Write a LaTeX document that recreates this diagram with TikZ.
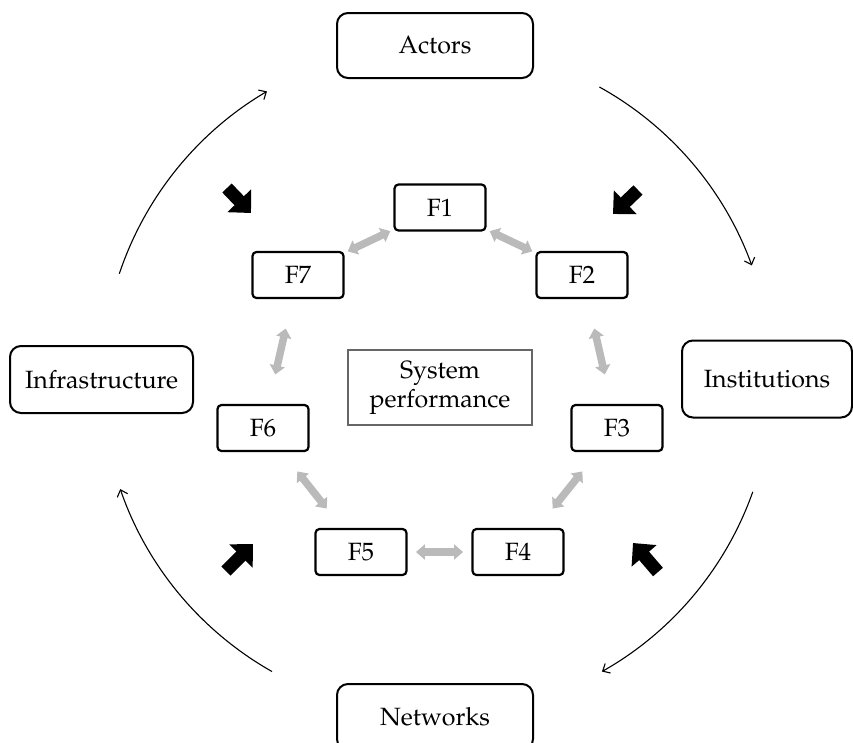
\documentclass[tikz,border=0pt]{standalone}
\usepackage[T1]{fontenc}
\renewcommand{\rmdefault}{ppl}
\usetikzlibrary{arrows.meta,calc}
\begin{document}
\begin{tikzpicture}[x=1pt,y=-1pt,
  txt/.style={font=\fontsize{25}{29}\selectfont},
  outerbox/.style={txt, draw, rounded corners=11pt, line width=2pt, inner sep=0pt},
  fbox/.style={txt, draw, rounded corners=4pt, line width=2.2pt, minimum width=91pt, minimum height=46pt, inner sep=0pt},
  grayarr/.style={draw=black!27, line width=7.5pt, {Triangle[length=9pt,width=15pt]}-{Triangle[length=9pt,width=15pt]}},
  blockarr/.style={draw=black, line width=13pt, -{Triangle[length=17pt,width=32pt]}},
  cyclearr/.style={draw=black, line width=1.1pt, -{Straight Barb[length=6pt,width=11pt]}}
]
\useasboundingbox (0,0) rectangle (853,742);

% outer boxes
\node[outerbox, minimum width=196pt, minimum height=65pt] (actors) at (435,45.5) {Actors};
\node[outerbox, minimum width=183pt, minimum height=67pt] (infra) at (101.5,379.5) {Infrastructure};
\node[outerbox, minimum width=170pt, minimum height=77pt] (inst) at (767,379) {Institutions};
\node[outerbox, minimum width=196pt, minimum height=66pt] (netw) at (435,717) {Networks};

% center box
\node[txt, draw=black!60, line width=1.2pt, minimum width=184pt, minimum height=75pt, align=center, inner sep=0pt] (sp) at (440,387.5) {System\\performance};

% F boxes
\node[fbox] (f1) at (440,207.5) {F1};
\node[fbox] (f2) at (582,275) {F2};
\node[fbox] (f3) at (617,428) {F3};
\node[fbox] (f4) at (518,552) {F4};
\node[fbox] (f5) at (361,552) {F5};
\node[fbox] (f6) at (263,428) {F6};
\node[fbox] (f7) at (298,275) {F7};

% gray double arrows
\foreach \a/\b in {f1/f7, f1/f2, f7/f6, f2/f3, f6/f5, f3/f4, f5/f4}
  \draw[grayarr] ($(\a)!0.35!(\b)$) -- ($(\a)!0.65!(\b)$);

% black block arrows
\coordinate (tlA) at (227,188); \coordinate (tlB) at (251,213);
\coordinate (trA) at (638,190); \coordinate (trB) at (613,214);
\coordinate (blA) at (226,571); \coordinate (blB) at (253,544);
\coordinate (brA) at (658,572); \coordinate (brB) at (633,543);
\draw[blockarr] (tlA) -- (tlB);
\draw[blockarr] (trA) -- (trB);
\draw[blockarr] (blA) -- (blB);
\draw[blockarr] (brA) -- (brB);

% cycle arcs
\coordinate (c) at (437,380);
\draw[cyclearr] ($(c)+(-161.5:335)$) arc[start angle=-161.5, end angle=-120.5, radius=335];
\draw[cyclearr] ($(c)+(-61:335)$) arc[start angle=-61, end angle=-20, radius=335];
\draw[cyclearr] ($(c)+(19.5:335)$) arc[start angle=19.5, end angle=60.5, radius=335];
\draw[cyclearr] ($(c)+(119.5:335)$) arc[start angle=119.5, end angle=161, radius=335];
\end{tikzpicture}
\end{document}
